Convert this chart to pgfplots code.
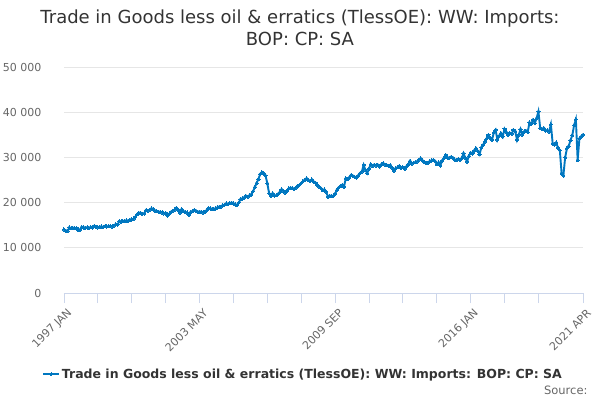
\documentclass[border=0pt]{standalone}
\usepackage{pgfplots}
\pgfplotsset{compat=1.18}
\usepackage{fontspec}
\setmainfont{DejaVu Sans}
\definecolor{lineblue}{HTML}{0077C0}
\definecolor{titlegray}{HTML}{333333}
\definecolor{labgray}{HTML}{666666}
\definecolor{gridgray}{HTML}{E6E6E6}
\definecolor{axisblue}{HTML}{CCD6EB}
\begin{document}
\begin{tikzpicture}[x=1pt,y=1pt]
\path[use as bounding box] (0,0) rectangle (600,400);
\node[anchor=base, text=titlegray, font=\fontsize{18}{21}\selectfont] at (300,376) {Trade in Goods less oil \& erratics (TlessOE): WW: Imports:};
\node[anchor=base, text=titlegray, font=\fontsize{18}{21}\selectfont] at (300,354) {BOP: CP: SA};
\begin{axis}[
  at={(64pt,107pt)}, anchor=south west,
  scale only axis, width=519pt, height=226pt,
  xmin=0, xmax=291, ymin=0, ymax=50000,
  axis x line*=bottom, axis y line*=left,
  y axis line style={draw=none},
  x axis line style={draw=axisblue, line width=0.8pt},
  scaled y ticks=false,
  ytick={0,10000,20000,30000,40000,50000},
  yticklabels={0,10 000,20 000,30 000,40 000,50 000},
  ytick style={draw=none},
  ymajorgrids, major grid style={draw=gridgray, line width=0.8pt},
  xtick={0,76,152,228,291},
  xticklabels={1997 JAN,2003 MAY,2009 SEP,2016 JAN,2021 APR},
  minor xtick={19,38,57,95,114,133,171,190,209,247,266},
  xtick style={draw=axisblue, line width=0.8pt},
  tick align=outside, major tick length=10pt, minor tick length=10pt,
  yticklabel style={font=\fontsize{11}{13}\selectfont, text=labgray, xshift=-9pt},
  xticklabel style={font=\fontsize{11}{13}\selectfont, text=labgray, rotate=45, anchor=east, xshift=2pt, yshift=-10pt},
  clip=false,
  legend style={at={(0.4605,-0.36)}, anchor=center, draw=none, fill=none,
    font=\fontsize{12.5}{14}\selectfont\bfseries, text=titlegray, legend cell align=left},
  legend image code/.code={\draw[#1, mark=none] (0pt,0pt) -- (16pt,0pt); \draw[#1] plot coordinates {(8pt,0pt)};},
]
\addplot[color=lineblue, line width=1.9pt, mark=*, mark size=1.6pt, mark options={draw=lineblue, fill=lineblue, line width=0pt}] coordinates {
(0,14050)(1,13800)(2,13700)(3,14500)(4,14300)(5,14400)(6,14300)(7,14400)(8,13900)(9,14000)
(10,14600)(11,14500)(12,14400)(13,14500)(14,14300)(15,14600)(16,14500)(17,14850)(18,14600)(19,14500)
(20,14650)(21,14700)(22,14600)(23,14800)(24,14700)(25,14750)(26,14850)(27,14700)(28,14900)(29,15200)
(30,15100)(31,15900)(32,15800)(33,15900)(34,15950)(35,16050)(36,16000)(37,16200)(38,16270)(39,16400)
(40,16850)(41,17400)(42,17750)(43,17700)(44,17500)(45,17600)(46,18350)(47,18200)(48,18400)(49,18700)
(50,18600)(51,18200)(52,18100)(53,18000)(54,17950)(55,17800)(56,17600)(57,17700)(58,17100)(59,17500)
(60,17950)(61,18200)(62,18400)(63,18850)(64,18400)(65,17800)(66,18550)(67,18100)(68,17900)(69,17800)
(70,17300)(71,17900)(72,18100)(73,18350)(74,18200)(75,18000)(76,17950)(77,18000)(78,17800)(79,17900)
(80,18300)(81,18800)(82,18700)(83,18600)(84,18550)(85,18700)(86,18900)(87,19080)(88,19100)(89,19400)
(90,19500)(91,19800)(92,19700)(93,19900)(94,19970)(95,19800)(96,19600)(97,19450)(98,20000)(99,20780)
(100,20900)(101,21100)(102,21500)(103,21300)(104,21600)(105,21800)(106,22500)(107,23400)(108,24300)(109,25200)
(110,26300)(111,26700)(112,26500)(113,26000)(114,24250)(115,22040)(116,21500)(117,22040)(118,21500)(119,21600)
(120,21900)(121,22300)(122,22930)(123,22600)(124,22190)(125,22600)(126,23100)(127,23300)(128,23200)(129,23000)
(130,23300)(131,23700)(132,23900)(133,24300)(134,24700)(135,25000)(136,25370)(137,25000)(138,24800)(139,25100)
(140,24630)(141,24400)(142,23900)(143,23520)(144,23200)(145,22780)(146,22900)(147,22400)(148,21300)(149,21500)
(150,21400)(151,21500)(152,22000)(153,22780)(154,23300)(155,23670)(156,23900)(157,23520)(158,25370)(159,25200)
(160,25600)(161,26100)(162,25900)(163,25700)(164,25500)(165,26000)(166,26500)(167,26850)(168,28330)(169,27220)
(170,26480)(171,27500)(172,28480)(173,28100)(174,28400)(175,28200)(176,28330)(177,28000)(178,28500)(179,28700)
(180,28400)(181,28300)(182,28100)(183,28300)(184,27700)(185,27070)(186,27600)(187,27800)(188,28100)(189,27600)
(190,27800)(191,27440)(192,28000)(193,28500)(194,29200)(195,28600)(196,28800)(197,28920)(198,29100)(199,29500)
(200,29800)(201,29300)(202,29000)(203,28700)(204,28800)(205,29100)(206,29300)(207,29440)(208,29200)(209,28500)
(210,28900)(211,28180)(212,29300)(213,29800)(214,30540)(215,30000)(216,29900)(217,30100)(218,29950)(219,29500)
(220,29400)(221,29600)(222,29440)(223,29800)(224,30910)(225,29900)(226,29070)(227,30300)(228,31060)(229,30800)
(230,31500)(231,32020)(232,31400)(233,30690)(234,32200)(235,32760)(236,33500)(237,34200)(238,34980)(239,34300)
(240,33870)(241,35500)(242,36090)(243,33870)(244,34800)(245,35350)(246,34600)(247,36310)(248,35600)(249,34980)
(250,35400)(251,35200)(252,36090)(253,35800)(254,33870)(255,35000)(256,36240)(257,35000)(258,35720)(259,35900)
(260,35600)(261,37720)(262,37400)(263,38310)(264,37600)(265,38680)(266,40160)(267,36500)(268,36200)(269,36500)
(270,35940)(271,36000)(272,35720)(273,37300)(274,33050)(275,32800)(276,33300)(277,32100)(278,31600)(279,26500)
(280,26000)(281,30000)(282,32000)(283,32500)(284,33800)(285,34900)(286,37100)(287,38400)(288,29400)(289,34200)
(290,34600)(291,35000)
};
\addlegendentry{Trade in Goods less oil \& erratics (TlessOE): WW: Imports: BOP: CP: SA}
\end{axis}
\node[anchor=base east, text=labgray, font=\fontsize{11.5}{13}\selectfont] at (591,6) {Source:};
\end{tikzpicture}
\end{document}
